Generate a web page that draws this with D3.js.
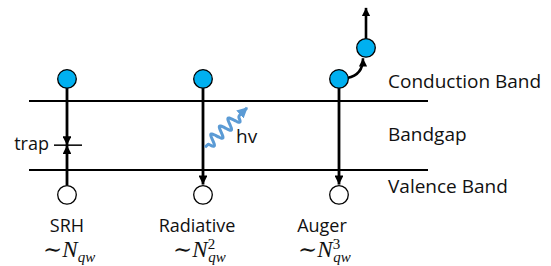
<!DOCTYPE html>
<html>
<head>
<meta charset="utf-8">
<script src="https://cdn.jsdelivr.net/npm/d3@7"></script>
<style>
  body { margin: 0; background: #fff; }
  svg text { font-family: "Open Sans", Lato, sans-serif; fill: #111; }
  .math { font-family: "Liberation Serif", "DejaVu Serif", serif; font-style: italic; }
</style>
</head>
<body>
<div id="chart-area"></div>
<script>
const chartSize = { width: 551, height: 266 };

// recombination processes and their carrier-density scaling exponent
const processes = ['SRH', 'Radiative', 'Auger'];
const exponents = [1, 2, 3];
// energy levels (valence band = 0, conduction band = 1)
const bandNames = ['Conduction Band', 'Bandgap', 'Valence Band'];
const bandLevels = [1, 0.5, 0];
const electronLevel = 1.32;
const holeLevel = -0.36;
const trapLevel = 0.36;
const hotElectronLevel = 1.77;
const escapeLevel = 2.35;

const blue = '#00b0f0';
const photonBlue = '#5b9bd5';

const x = d3.scalePoint().domain(processes).range([67, 339]);
const y = d3.scaleLinear().domain([0, 1]).range([170, 101]);

const svg = d3.select('#chart-area').append('svg')
  .attr('width', chartSize.width)
  .attr('height', chartSize.height);

const defs = svg.append('defs');
defs.append('marker')
  .attr('id', 'arrow')
  .attr('viewBox', '0 0 10 10')
  .attr('refX', 10).attr('refY', 5)
  .attr('markerWidth', 3.4).attr('markerHeight', 3.2)
  .attr('markerUnits', 'strokeWidth')
  .attr('orient', 'auto')
  .append('path').attr('d', 'M0,0 L10,5 L0,10 Z').attr('fill', '#000');
defs.append('marker')
  .attr('id', 'arrowBlue')
  .attr('viewBox', '0 0 10 10')
  .attr('refX', 9).attr('refY', 5)
  .attr('markerWidth', 3.6).attr('markerHeight', 4)
  .attr('markerUnits', 'strokeWidth')
  .attr('orient', 'auto')
  .append('path').attr('d', 'M0,0 L10,5 L0,10 Z').attr('fill', photonBlue);

// band edges
svg.selectAll('.band')
  .data([bandLevels[0], bandLevels[2]])
  .enter().append('line')
  .attr('class', 'band')
  .attr('x1', 29).attr('x2', 428)
  .attr('y1', d => y(d)).attr('y2', d => y(d))
  .attr('stroke', '#000').attr('stroke-width', 1.8);

// band labels
const labelBase = [88, 141, 193];
svg.selectAll('.band-label')
  .data(bandNames)
  .enter().append('text')
  .attr('class', 'band-label')
  .attr('x', 388)
  .attr('y', (d, i) => labelBase[i])
  .attr('font-size', 19)
  .text(d => d);

const r = 9.3;
const g = svg.append('g');

// transitions
const srh = x('SRH');
g.append('line')
  .attr('x1', srh).attr('x2', srh)
  .attr('y1', y(electronLevel)).attr('y2', y(trapLevel))
  .attr('stroke', '#000').attr('stroke-width', 2.8)
  .attr('marker-end', 'url(#arrow)');
g.append('line')
  .attr('x1', srh).attr('x2', srh)
  .attr('y1', y(holeLevel) - r).attr('y2', y(trapLevel))
  .attr('stroke', '#000').attr('stroke-width', 2.8)
  .attr('marker-end', 'url(#arrow)');
g.append('line')
  .attr('x1', srh - 13).attr('x2', srh + 15)
  .attr('y1', y(trapLevel)).attr('y2', y(trapLevel))
  .attr('stroke', '#000').attr('stroke-width', 1.5);
g.append('text')
  .attr('x', srh - 18).attr('y', y(trapLevel) + 5)
  .attr('text-anchor', 'end')
  .attr('font-size', 18)
  .text('trap');

['Radiative', 'Auger'].forEach(p => {
  g.append('line')
    .attr('x1', x(p)).attr('x2', x(p))
    .attr('y1', y(electronLevel)).attr('y2', y(holeLevel) - r - 1)
    .attr('stroke', '#000').attr('stroke-width', 2.8)
    .attr('marker-end', 'url(#arrow)');
});

// photon
const rad = x('Radiative');
const p0 = [rad + 2, y(0.33)];
const p1 = [rad + 44, y(0.9)];
const dx = p1[0] - p0[0], dy = p1[1] - p0[1];
const len = Math.hypot(dx, dy);
const ux = dx / len, uy = dy / len;
const waveLen = len - 12;
const wave = d3.range(0, 1.0001, 0.01).map(t => {
  const s = t * waveLen;
  const a = t < 0.1 ? 0 : 5.5 * Math.sin((t - 0.1) / 0.9 * 3.5 * 2 * Math.PI);
  return [p0[0] + ux * s - uy * a, p0[1] + uy * s + ux * a];
});
wave.push(p1);
g.append('path')
  .attr('d', d3.line().curve(d3.curveBasis)(wave))
  .attr('fill', 'none')
  .attr('stroke', photonBlue).attr('stroke-width', 3)
  .attr('marker-end', 'url(#arrowBlue)');
g.append('text')
  .attr('x', rad + 33).attr('y', y(0.39))
  .attr('font-size', 19)
  .text('hv');

// Auger hot electron
const aug = x('Auger');
const hotX = aug + 27;
g.append('path')
  .attr('d', `M${aug + r - 1},${y(electronLevel) - 1} Q${hotX - 3},${y(electronLevel) - 4} ${hotX - 3},${y(hotElectronLevel) + r + 1}`)
  .attr('fill', 'none').attr('stroke', '#000').attr('stroke-width', 2.6)
  .attr('marker-end', 'url(#arrow)');
g.append('line')
  .attr('x1', hotX).attr('x2', hotX)
  .attr('y1', y(hotElectronLevel) - r).attr('y2', y(escapeLevel))
  .attr('stroke', '#000').attr('stroke-width', 2.6)
  .attr('marker-end', 'url(#arrow)');

// carriers
const carrier = (cx, cy, fill) => g.append('circle')
  .attr('cx', cx).attr('cy', cy).attr('r', r)
  .attr('fill', fill).attr('stroke', '#000').attr('stroke-width', 1.3);
processes.forEach(p => {
  carrier(x(p), y(electronLevel), blue);
  carrier(x(p), y(holeLevel), '#fff');
});
carrier(hotX, y(hotElectronLevel), blue);

// process names and scaling
const labelX = [67, 197, 322];
svg.selectAll('.proc')
  .data(processes)
  .enter().append('text')
  .attr('class', 'proc')
  .attr('x', (d, i) => labelX[i]).attr('y', 232)
  .attr('text-anchor', 'middle')
  .attr('font-size', 18)
  .text(d => d);

exponents.forEach((e, i) => {
  const t = svg.append('text')
    .attr('class', 'math')
    .attr('x', labelX[i] - 24).attr('y', 257)
    .attr('font-size', 23);
  t.append('tspan').attr('font-style', 'normal').text('\u223C');
  t.append('tspan').text('N');
  if (e > 1) {
    t.append('tspan').attr('font-size', 15).attr('dy', -8).attr('font-style', 'normal').text(e);
    t.append('tspan').attr('font-size', 15).attr('dx', -7).attr('dy', 13).text('qw');
  } else {
    t.append('tspan').attr('font-size', 15).attr('dy', 5).text('qw');
  }
});
</script>
</body>
</html>
